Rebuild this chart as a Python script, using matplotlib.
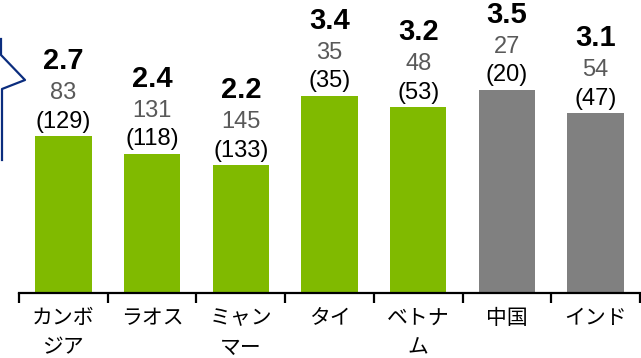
import matplotlib
matplotlib.use("Agg")
import matplotlib.pyplot as plt
from matplotlib.lines import Line2D

categories = ["カンボ\nジア", "ラオス", "ミャン\nマー", "タイ", "ベトナ\nム", "中国", "インド"]
scores = [2.7, 2.4, 2.2, 3.4, 3.2, 3.5, 3.1]
ranks = [83, 131, 145, 35, 48, 27, 54]
prev_ranks = [129, 118, 133, 35, 53, 20, 47]
colors = ["#80BA00", "#80BA00", "#80BA00", "#80BA00", "#80BA00", "#808080", "#808080"]

W, H = 641, 358
fig = plt.figure(figsize=(W / 100, H / 100), dpi=100)
ax = fig.add_axes([19 / W, (H - 293) / H, 621 / W, 293 / H])

x = list(range(len(categories)))
ax.bar(x, scores, width=0.635, color=colors, zorder=2)
ax.set_xlim(-0.5, 6.43)
ax.set_ylim(0, 5.05)

for s in ["top", "right", "left"]:
    ax.spines[s].set_visible(False)
ax.spines["bottom"].set_linewidth(1.6)
ax.spines["bottom"].set_color("black")
ax.set_yticks([])
ax.set_xticks([i - 0.5 for i in range(len(categories) + 1)])
ax.set_xticklabels([])
ax.tick_params(axis="x", direction="out", length=7, width=1.6, color="black")

jp = ["Noto Sans CJK JP", "DejaVu Sans"]
for i, lab in enumerate(categories):
    ax.annotate(lab, xy=(i, 0), xycoords=("data", "axes fraction"),
                xytext=(0, -10), textcoords="offset points",
                ha="center", va="top", fontsize=15, family=jp,
                linespacing=1.45, color="black")

num = ["Liberation Sans", "DejaVu Sans"]
for i in x:
    v = scores[i]
    ax.annotate(f"({prev_ranks[i]})", xy=(i, v), xytext=(0, 10.5),
                textcoords="offset points", ha="center", va="center",
                fontsize=17, family=num, color="black")
    ax.annotate(f"{ranks[i]}", xy=(i, v), xytext=(0, 31),
                textcoords="offset points", ha="center", va="center",
                fontsize=17, family=num, color="#595959")
    ax.annotate(f"{v:.1f}", xy=(i, v), xytext=(0, 54),
                textcoords="offset points", ha="center", va="center",
                fontsize=21, family=num, fontweight="bold", color="black")

# partially visible star-shaped callout at the left edge
px = [1, 1, 25, 2, 2]
py = [39, 55, 80, 89, 160]
fig.add_artist(Line2D([p / W for p in px], [1 - p / H for p in py],
                      transform=fig.transFigure, color="#0B2D7E", linewidth=1.6))

fig.savefig("out.png", dpi=100)
